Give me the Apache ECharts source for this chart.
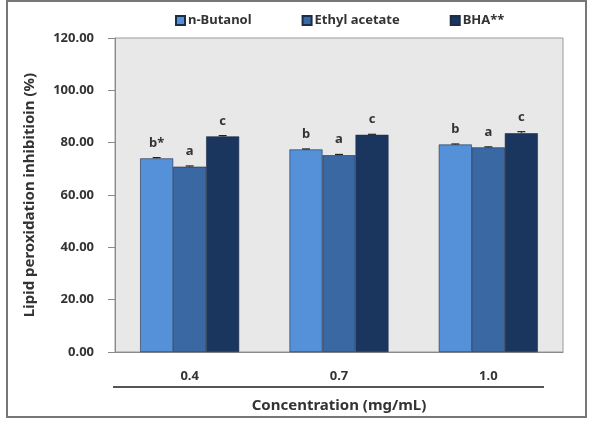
<!DOCTYPE html>
<html>
<head>
<meta charset="utf-8">
<script src="https://cdn.jsdelivr.net/npm/echarts@6/dist/echarts.min.js"></script>
<style>
html, body { margin: 0; padding: 0; background: #fff; }
#chart { width: 592px; height: 434px; }
</style>
</head>
<body>
<div id="chart"></div>
<script>
// data
const categories = ['0.4', '0.7', '1.0'];
const seriesNames = ['n-Butanol', 'Ethyl acetate', 'BHA**'];
const butanol = [74.0, 77.4, 79.3];
const ethyl = [70.8, 75.2, 78.2];
const bha = [82.4, 83.0, 83.6];
const butanolErr = [0.3, 0.2, 0.2];
const ethylErr = [0.3, 0.3, 0.2];
const bhaErr = [0.3, 0.2, 0.6];
const butanolMark = ['b*', 'b', 'b'];
const ethylMark = ['a', 'a', 'a'];
const bhaMark = ['c', 'c', 'c'];
const yTicks = [0, 20, 40, 60, 80, 100, 120];

const colors = ['#5591d8', '#3a68a3', '#1b365e'];
const font = 'Noto Sans';
const barW = 33;

const chart = echarts.init(document.getElementById('chart'));

function barSeries(name, values, marks, color) {
	return {
		name: name,
		type: 'bar',
		barWidth: barW,
		barGap: '0%',
		data: values,
		itemStyle: { color: color, borderColor: '#1c2d48', borderWidth: 0.6 },
		label: {
			show: true,
			position: 'top',
			distance: 9,
			fontFamily: font,
			fontWeight: 'bold',
			fontSize: 13,
			color: '#333',
			formatter: p => marks[p.dataIndex]
		},
		z: 2
	};
}

// little error caps on top of each bar
function errSeries(values, errs, slot) {
	return {
		type: 'custom',
		data: values.map((v, i) => [i, v, errs[i]]),
		z: 5,
		silent: true,
		renderItem: (params, api) => {
			const c = api.value(0);
			const v = api.value(1);
			const e = api.value(2);
			const hi = api.coord([c, v + e]);
			const lo = api.coord([c, v]);
			const x = hi[0] + (slot - 1) * barW;
			return {
				type: 'group',
				children: [
					{ type: 'line', shape: { x1: x, y1: hi[1], x2: x, y2: lo[1] }, style: { stroke: '#222', lineWidth: 1 } },
					{ type: 'line', shape: { x1: x - 4, y1: hi[1], x2: x + 4, y2: hi[1] }, style: { stroke: '#222', lineWidth: 1.2 } }
				]
			};
		}
	};
}

const option = {
	animation: false,
	color: colors,
	legend: {
		data: seriesNames,
		left: 170,
		top: 9,
		itemWidth: 9,
		itemHeight: 9,
		itemGap: 50,
		icon: 'rect',
		textStyle: { fontFamily: font, fontWeight: 'bold', fontSize: 13, color: '#333', padding: [0, 0, 0, -2] }
	},
	grid: {
		left: 115,
		right: 29,
		top: 38,
		bottom: 82,
		show: true,
		backgroundColor: '#e8e8e8',
		borderColor: '#9a9a9a',
		borderWidth: 1
	},
	xAxis: {
		type: 'category',
		data: categories,
		name: 'Concentration (mg/mL)',
		nameLocation: 'middle',
		nameGap: 46,
		nameTextStyle: { fontFamily: font, fontWeight: 'bold', fontSize: 15, color: '#333' },
		axisLine: { lineStyle: { color: '#8a8a8a', width: 1 } },
		axisTick: { alignWithLabel: true, length: 5, lineStyle: { color: '#8a8a8a' } },
		axisLabel: { margin: 18, fontFamily: font, fontWeight: 'bold', fontSize: 13, color: '#333' }
	},
	yAxis: {
		type: 'value',
		min: yTicks[0],
		max: yTicks[yTicks.length - 1],
		interval: 20,
		name: 'Lipid peroxidation inhibitioin (%)',
		nameLocation: 'middle',
		nameGap: 78,
		nameTextStyle: { fontFamily: font, fontWeight: 'bold', fontSize: 15, color: '#333' },
		axisLine: { show: true, lineStyle: { color: '#8a8a8a', width: 1 } },
		axisTick: { show: true, length: 7, lineStyle: { color: '#8a8a8a' } },
		splitLine: { show: false },
		axisLabel: {
			margin: 21,
			fontFamily: font,
			fontWeight: 'bold',
			fontSize: 13,
			color: '#333',
			formatter: v => v.toFixed(2)
		}
	},
	graphic: [
		{ type: 'rect', shape: { x: 7, y: 1, width: 579, height: 416 }, style: { fill: 'none', stroke: '#777', lineWidth: 2 }, silent: true },
		{ type: 'line', shape: { x1: 113, y1: 387, x2: 544, y2: 387 }, style: { stroke: '#555', lineWidth: 2 }, silent: true }
	],
	series: [
		barSeries(seriesNames[0], butanol, butanolMark, colors[0]),
		barSeries(seriesNames[1], ethyl, ethylMark, colors[1]),
		barSeries(seriesNames[2], bha, bhaMark, colors[2]),
		errSeries(butanol, butanolErr, 0),
		errSeries(ethyl, ethylErr, 1),
		errSeries(bha, bhaErr, 2)
	]
};

chart.setOption(option);
window.addEventListener('resize', () => {
	chart.resize();
});
</script>
</body>
</html>
